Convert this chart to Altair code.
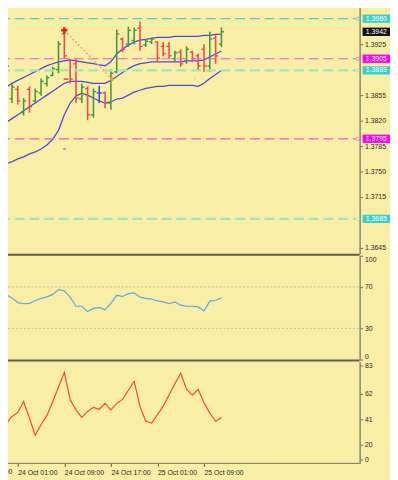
import altair as alt
import pandas as pd
import numpy as np

FONT = "Liberation Sans"
BG = "#F8EEA6"

# hourly bars, hour offset from 24 Oct 00:00
hours = list(range(-2, 37))
open_ = [1.3860, 1.3895, 1.3850, 1.3863, 1.3831, 1.3863, 1.3847, 1.3858, 1.3871, 1.3882,
         1.3890, 1.3939, 1.3903, 1.3898, 1.3850, 1.3864, 1.3828, 1.3858, 1.3858, 1.3844,
         1.3887, 1.3932, 1.3925, 1.3930, 1.3947, 1.3924, 1.3928, 1.3928, 1.3922, 1.3922,
         1.3905, 1.3914, 1.3902, 1.3914, 1.3909, 1.3918, 1.3895, 1.3933, 1.3925]
high = [1.3901, 1.3898, 1.3871, 1.3868, 1.3851, 1.3867, 1.3864, 1.3878, 1.3882, 1.3894,
        1.3929, 1.3944, 1.3905, 1.3905, 1.3871, 1.3867, 1.3864, 1.3868, 1.3860, 1.3891,
        1.3945, 1.3934, 1.3949, 1.3948, 1.3956, 1.3932, 1.3934, 1.3929, 1.3928, 1.3928,
        1.3916, 1.3918, 1.3922, 1.3916, 1.3912, 1.3925, 1.3942, 1.3939, 1.3948]
low = [1.3855, 1.3893, 1.3844, 1.3842, 1.3827, 1.3831, 1.3844, 1.3854, 1.3867, 1.3881,
       1.3885, 1.3905, 1.3871, 1.3844, 1.3844, 1.3821, 1.3824, 1.3844, 1.3837, 1.3835,
       1.3885, 1.3914, 1.3921, 1.3925, 1.3916, 1.3921, 1.3925, 1.3901, 1.3908, 1.3905,
       1.3902, 1.3894, 1.3898, 1.3901, 1.3889, 1.3887, 1.3887, 1.3898, 1.3921]
close = [1.3895, 1.3895, 1.3866, 1.3847, 1.3847, 1.3839, 1.3860, 1.3874, 1.3879, 1.3891,
         1.3925, 1.3909, 1.3877, 1.3851, 1.3866, 1.3828, 1.3860, 1.3858, 1.3844, 1.3885,
         1.3939, 1.3918, 1.3944, 1.3944, 1.3922, 1.3929, 1.3932, 1.3906, 1.3912, 1.3909,
         1.3913, 1.3898, 1.3918, 1.3905, 1.3895, 1.3895, 1.3932, 1.3909, 1.3942]

bb_upper = [1.38617, 1.38658, 1.38712, 1.38752, 1.38792, 1.38833, 1.38873, 1.38914, 1.38954, 1.38981,
            1.39008, 1.39021, 1.39035, 1.39021, 1.39008, 1.38994, 1.38981, 1.38967, 1.38954, 1.39008,
            1.39115, 1.39183, 1.39237, 1.39277, 1.39304, 1.39317, 1.39331, 1.39344, 1.39344, 1.39344,
            1.39358, 1.39358, 1.39358, 1.39358, 1.39358, 1.39371, 1.39371, 1.39385, 1.39385]
bb_mid = [1.38106, 1.38173, 1.38227, 1.38281, 1.38335, 1.38389, 1.38442, 1.38496, 1.38550, 1.38604,
          1.38658, 1.38712, 1.38739, 1.38739, 1.38739, 1.38725, 1.38712, 1.38712, 1.38712, 1.38752,
          1.38806, 1.38860, 1.38914, 1.38954, 1.38981, 1.38994, 1.39008, 1.39008, 1.39008, 1.39008,
          1.39008, 1.39008, 1.39021, 1.39021, 1.39021, 1.39035, 1.39075, 1.39115, 1.39156]
bb_lower = [1.37581, 1.37608, 1.37635, 1.37675, 1.37702, 1.37743, 1.37769, 1.37810, 1.37864, 1.37944,
            1.38066, 1.38281, 1.38442, 1.38537, 1.38577, 1.38550, 1.38510, 1.38469, 1.38442, 1.38456,
            1.38496, 1.38510, 1.38550, 1.38590, 1.38617, 1.38644, 1.38658, 1.38671, 1.38671, 1.38685,
            1.38685, 1.38685, 1.38685, 1.38685, 1.38671, 1.38712, 1.38779, 1.38833, 1.38887]

rsi = [65.3, 62.5, 59.4, 54.9, 53.8, 54.2, 56.6, 59.0, 60.4, 62.8,
       67.4, 66.3, 60.1, 51.4, 51.4, 46.2, 49.3, 50.3, 47.9, 54.2,
       61.8, 60.8, 63.5, 64.2, 60.1, 59.0, 58.3, 56.6, 55.6, 53.8,
       55.6, 52.4, 51.4, 51.4, 50.7, 46.9, 56.3, 56.9, 59.4]
osc = [44.8, 37.2, 43.4, 46.7, 55.5, 42.1, 27.8, 36.7, 44.0, 55.5,
       67.7, 79.8, 57.4, 48.8, 42.6, 47.5, 50.9, 49.3, 54.2, 48.8,
       54.2, 57.4, 65.0, 72.5, 51.5, 39.4, 38.0, 44.8, 52.1, 61.0,
       70.3, 79.0, 65.8, 61.0, 65.8, 54.7, 46.1, 39.4, 42.6]

tick_hours = [-7, 1, 9, 17, 25, 33]
tick_labels = ["23 Oct 17:00", "24 Oct 01:00", "24 Oct 09:00", "24 Oct 17:00", "25 Oct 01:00", "25 Oct 09:00"]
price_ticks = [1.3925, 1.3855, 1.3820, 1.3785, 1.3750, 1.3715, 1.3645]

level_prices = [1.3960, 1.3905, 1.3889, 1.3795, 1.3685]
level_colors = ["#45d4ce", "#e05fdf", "#a3e6b5", "#e05fdf", "#a3e6b5"]
level_widths = [1.2, 1.2, 2.2, 1.2, 2.2]

box_prices = [1.3981, 1.3960, 1.3942, 1.3905, 1.3889, 1.3795, 1.3685]
box_fills = ["#111111", "#3ccfc9", "#111111", "#ff00ff", "#3ccfc9", "#ff00ff", "#3ccfc9"]

zig_h = [9, 17.2]
zig_p = [1.3944, 1.3877]

# small marks near the fractal bar: (h start, h end, price, colour)
dash_h0 = [8.8, 8.9]
dash_h1 = [9.3, 9.7]
dash_p = [1.3781, 1.3877]
dash_c = ["#7b95d6", "#ee4a3a"]

rsi_levels = [30, 70]
osc_tick_vals = [7.9, 20, 41, 62, 85.4]

# ---------------------------------------------------------------
df = pd.DataFrame({"h": hours, "open": open_, "high": high, "low": low, "close": close,
                   "upper": bb_upper, "mid": bb_mid, "lower": bb_lower,
                   "rsi": rsi, "osc": osc})
df["dir"] = np.where(df["close"] > df["open"], "up", np.where(df["close"] < df["open"], "down", "flat"))
df["hl"] = df["h"] - 0.45
df["hr"] = df["h"] + 0.45

W = 359
H = 460
# the page has an 8px margin; ranges start at -8 so the plot reaches the window edge
xs = alt.Scale(domain=[-2.030, 59.75], range=[-8, W], nice=False, zero=False)
ys_main = alt.Scale(domain=[1.36370, 1.39788], range=[246, -8], nice=False, zero=False)
ys_rsi = alt.Scale(domain=[0, 100], range=[354, 248], nice=False, zero=False)
ys_osc = alt.Scale(domain=[4.65, 88.66], range=[460, 356], nice=False, zero=False)

axis_common = dict(orient="right", title=None, grid=False, labelFont=FONT, labelFontSize=7,
                   labelColor="#2a2a2a", tickColor="#6f6f66", tickSize=3, domainColor="#85857a",
                   domainWidth=1.5, labelPadding=2)
main_axis = alt.Axis(values=price_ticks, format=".4f", **axis_common)
rsi_axis = alt.Axis(values=[0, 30, 70, 100], format="d", labelFlush=True, **axis_common)
osc_axis = alt.Axis(values=osc_tick_vals, format=".0f",
                    labelExpr="datum.value < 10 ? '0' : (datum.value > 80 ? '83' : datum.label)",
                    **axis_common)
x_expr = "[" + ",".join("'%s'" % t for t in tick_labels) + "][(datum.value - (%d)) / 8]" % tick_hours[0]
x_axis = alt.Axis(values=tick_hours[1:], labelExpr=x_expr, title=None, grid=False, domain=False,
                  labelFont=FONT, labelFontSize=7, labelColor="#2a2a2a", labelAlign="left",
                  labelBaseline="top", labelPadding=2, tickColor="#555550", tickSize=3,
                  labelBound=False, labelOverlap=False)


def XQ(field):
    return alt.X(field, type="quantitative", scale=xs, axis=x_axis)


def YM(field):
    return alt.Y(field, type="quantitative", scale=ys_main, axis=main_axis)


def YR(field):
    return alt.Y(field, type="quantitative", scale=ys_rsi, axis=rsi_axis)


def YO(field):
    return alt.Y(field, type="quantitative", scale=ys_osc, axis=osc_axis)


col = alt.Color("dir:N", scale=alt.Scale(domain=["up", "down", "flat"],
                                          range=["#3e9c3e", "#f04a4a", "#3152e6"]), legend=None)
base = alt.Chart(df)

bands = base.transform_fold(["upper", "mid", "lower"], as_=["band", "val"]).mark_line(
    color="#4b4bdc", strokeWidth=1.3).encode(x=XQ("h"), y=YM("val"), detail="band:N")
hl = base.mark_rule(strokeWidth=1.6).encode(x=XQ("h"), y=YM("high"), y2="low:Q", color=col)
opn = base.mark_rule(strokeWidth=1.4).encode(x=XQ("hl"), x2="h:Q", y=YM("open"), color=col)
cls = base.mark_rule(strokeWidth=1.4).encode(x=XQ("h"), x2="hr:Q", y=YM("close"), color=col)

lv = pd.DataFrame({"price": level_prices, "color": level_colors, "w": level_widths})
levels = alt.Chart(lv).mark_rule(strokeDash=[10, 5]).encode(
    x=alt.value(-8), x2=alt.value(355), y=YM("price"),
    color=alt.Color("color:N", scale=None), strokeWidth=alt.StrokeWidth("w:Q", scale=None))
ends = alt.Chart(lv).mark_point(shape="circle", size=12, filled=False, strokeWidth=1).encode(
    x=alt.value(357), y=YM("price"), color=alt.Color("color:N", scale=None))

zz_df = pd.DataFrame({"h": zig_h, "price": zig_p})
zz = alt.Chart(zz_df).mark_line(strokeDash=[2, 2], color="#f0a184", strokeWidth=1.5).encode(
    x=XQ("h"), y=YM("price"))
star = alt.Chart(zz_df.iloc[[0]]).mark_point(shape="cross", filled=True, size=40, color="#e41e1e", opacity=1).encode(
    x=XQ("h"), y=YM("price"))
orange = alt.Chart(zz_df.iloc[[1]]).mark_circle(size=18, color="#e8a13c", opacity=1).encode(
    x=XQ("h"), y=YM("price"))

dd = pd.DataFrame({"h0": dash_h0, "h1": dash_h1, "price": dash_p, "c": dash_c})
dashes = alt.Chart(dd).mark_rule(strokeWidth=1.6).encode(
    x=XQ("h0"), x2="h1:Q", y=YM("price"), color=alt.Color("c:N", scale=None))

bx = pd.DataFrame({"price": box_prices, "fill": box_fills,
                   "label": ["%.4f" % p for p in box_prices]})
box = alt.Chart(bx).mark_tick(orient="horizontal", thickness=8.5, size=28, opacity=1).encode(
    x=alt.value(376), y=YM("price"), color=alt.Color("fill:N", scale=None))
boxt = alt.Chart(bx).mark_text(color="white", fontSize=7, font=FONT, baseline="middle", align="center").encode(
    x=alt.value(376), y=YM("price"), text="label:N")

main = alt.layer(bands, hl, opn, cls, levels, ends, zz, dashes, star, orange, box, boxt)

rl = pd.DataFrame({"v": rsi_levels})
rsi_lv = alt.Chart(rl).mark_rule(strokeDash=[2, 2], color="#c9c1a2", strokeWidth=1).encode(
    x=alt.value(-8), x2=alt.value(W), y=YR("v"))
rsi_line = base.mark_line(color="#5aa8e6", strokeWidth=1.2).encode(x=XQ("h"), y=YR("rsi"))
rsi_panel = alt.layer(rsi_lv, rsi_line)

osc_line = base.mark_line(color="#f24a2c", strokeWidth=1.2).encode(x=XQ("h"), y=YO("osc"))

# first (partly hidden) time label, left of the window edge
first_lab = pd.DataFrame({"h": tick_hours[:1], "t": tick_labels[:1]})
first_text = alt.Chart(first_lab).mark_text(
    font=FONT, fontSize=7, color="#2a2a2a", align="left", baseline="top", dx=2).encode(
    x=XQ("h"), y=alt.value(465), text="t:N")

one = pd.DataFrame({"a": [0]})
sep1 = alt.Chart(one).mark_rule(color="#5e5e55", strokeWidth=2).encode(
    x=alt.value(-8), x2=alt.value(W), y=alt.value(247))
sep2 = alt.Chart(one).mark_rule(color="#5e5e55", strokeWidth=2).encode(
    x=alt.value(-8), x2=alt.value(W), y=alt.value(355))
sep3 = alt.Chart(one).mark_rule(color="#77776c", strokeWidth=1).encode(
    x=alt.value(-8), x2=alt.value(W), y=alt.value(460))
seps = alt.layer(sep1, sep2, sep3)

chart = alt.layer(main, rsi_panel, osc_line, first_text, seps).resolve_scale(y="independent").resolve_axis(
    y="independent").properties(
    width=W, height=H, background=BG,
    padding={"left": 0, "top": 0, "right": 31, "bottom": 12},
    autosize=alt.AutoSizeParams(type="none")).configure_view(stroke=None)

chart.save("out.html", embed_options={"renderer": "svg", "actions": False})
